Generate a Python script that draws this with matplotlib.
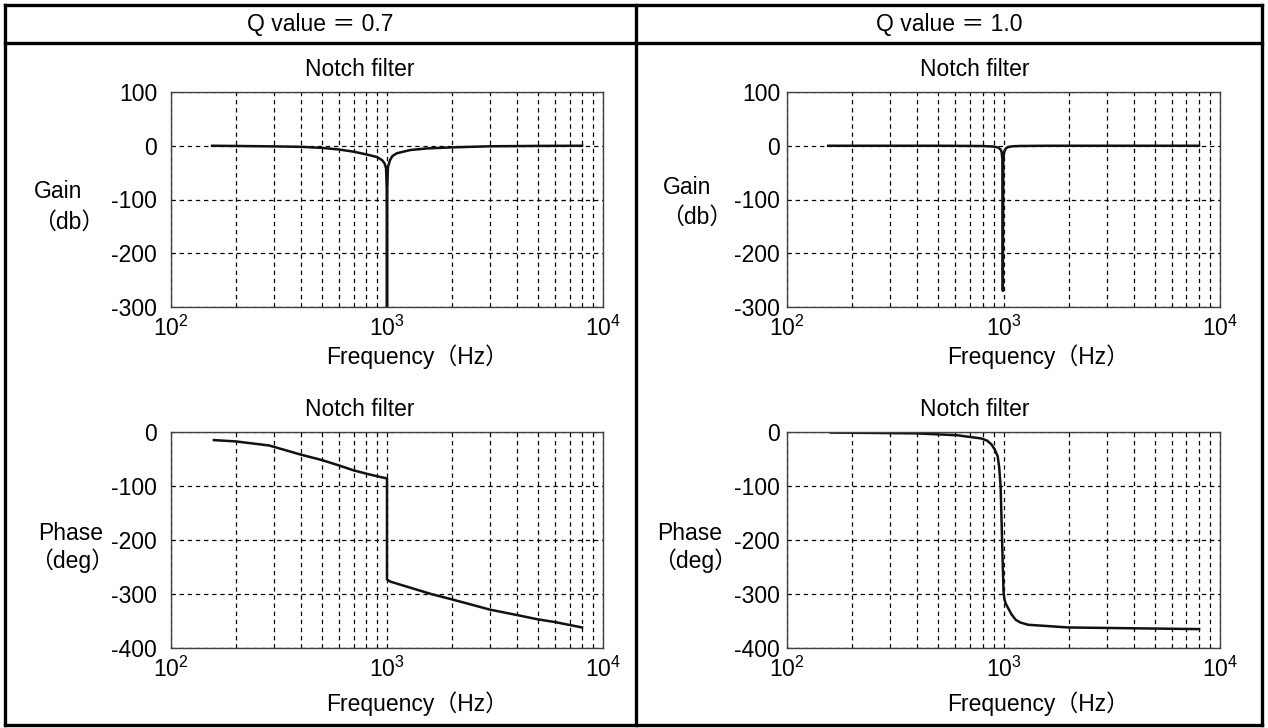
import matplotlib
matplotlib.use('Agg')
import matplotlib.pyplot as plt
from matplotlib.lines import Line2D
from matplotlib.ticker import LogLocator, NullFormatter, FixedLocator

plt.rcParams.update({
    'font.family': ['Liberation Sans', 'Noto Sans CJK JP'],
    'font.size': 16.5,
    'axes.unicode_minus': False,
    'mathtext.fontset': 'custom',
    'mathtext.rm': 'Liberation Sans',
    'mathtext.it': 'Liberation Sans:italic',
    'mathtext.bf': 'Liberation Sans:bold',
})

# --- DATA ---
col_titles = ['Q value ＝ 0.7', 'Q value ＝ 1.0']
plot_title = 'Notch filter'
xlabel = 'Frequency（Hz）'

# gain, Q = 0.7
gain_f_q07 = [155, 200, 300, 400, 500, 600, 700, 800, 900, 950, 975, 990, 997, 1000,
              1003, 1010, 1032, 1060, 1110, 1280, 1530, 2000, 3000, 5000, 8000]
gain_db_q07 = [0, -0.4, -1.2, -2, -4, -7, -11, -16, -21, -27, -33, -42, -80, -300,
               -80, -40, -27, -19, -14, -8, -5, -3, -1, -0.3, 0]

# gain, Q = 1.0
gain_f_q10 = [155, 500, 800, 900, 940, 965, 980, 988, 993, 998, 1008, 1025, 1050,
              1100, 1200, 1600, 8000]
gain_db_q10 = [0, 0, -0.5, -1.5, -3, -6, -11, -25, -270, -25, -11, -5, -2.5,
               -1, -0.4, 0, 0]

# phase, Q = 0.7
phase_f_q07 = [158, 200, 285, 400, 500, 600, 700, 800, 900, 1000, 1000, 1035, 1250,
               1600, 2000, 3000, 4000, 5000, 6000, 8000]
phase_deg_q07 = [-15, -17.5, -25, -42, -52, -62, -71, -77, -82, -86, -273, -277, -287,
                 -300, -310, -329, -339, -347, -352, -362]

# phase, Q = 1.0
phase_f_q10 = [159, 395, 610, 790, 840, 880, 910, 940, 955, 970, 985, 1000, 1010,
               1025, 1050, 1090, 1140, 1200, 1300, 2000, 8000]
phase_deg_q10 = [-1, -2.5, -6, -12, -16, -23, -32, -45, -65, -101, -200, -295, -310,
                 -318, -326, -338, -348, -353, -357, -362, -365]

gain_ticks = [-300, -200, -100, 0, 100]
phase_ticks = [-400, -300, -200, -100, 0]

# --- LAYOUT (pixels) ---
W, H = 1268, 728
fig = plt.figure(figsize=(W / 100, H / 100), dpi=100)


def fx(x):
    return x / W


def fy(y):
    return 1 - y / H


def add_axes(x0, x1, ytop, ybot):
    return fig.add_axes([fx(x0), fy(ybot), (x1 - x0) / W, (ybot - ytop) / H])


cols = [dict(x0=171, x1=603, title_x=360, xlab_x=417, ypad=10,
             ylab_x=58, unit_dx=11, ph_x=71, ph_dx=1),
        dict(x0=787, x1=1220, title_x=975, xlab_x=1038, ypad=5,
             ylab_x=687, unit_dx=10, ph_x=690, ph_dx=5)]

gain_data = [(gain_f_q07, gain_db_q07), (gain_f_q10, gain_db_q10)]
phase_data = [(phase_f_q07, phase_deg_q07), (phase_f_q10, phase_deg_q10)]


def style_axes(ax, yticks, ypad):
    ax.set_xscale('log')
    ax.set_xlim(100, 10000)
    ax.set_ylim(yticks[0], yticks[-1])
    ax.yaxis.set_major_locator(FixedLocator(yticks))
    ax.xaxis.set_major_locator(LogLocator(base=10))
    ax.xaxis.set_minor_locator(LogLocator(base=10, subs=range(2, 10)))
    ax.xaxis.set_minor_formatter(NullFormatter())
    ax.tick_params(which='both', length=0)
    ax.tick_params(axis='y', pad=ypad)
    ax.tick_params(axis='x', pad=6)
    ax.grid(True, which='both', axis='x', color='k', lw=0.9, ls=(0, (3.5, 3)))
    ax.grid(True, which='major', axis='y', color='k', lw=0.9, ls=(0, (3.5, 3)))
    for s in ax.spines.values():
        s.set_color('#404040')
        s.set_linewidth(1.0)


for c, col in enumerate(cols):
    # gain plot
    ax = add_axes(col['x0'], col['x1'], 92, 307)
    f, g = gain_data[c]
    ax.plot(f, g, color='#111111', lw=1.8)
    style_axes(ax, gain_ticks, col['ypad'])
    fig.text(fx(col['title_x']), fy(70), plot_title, ha='center', va='center')
    fig.text(fx(col['xlab_x']), fy(357), xlabel, ha='center', va='center')
    fig.text(fx(col['ylab_x']), fy(192 - 5 * c), 'Gain', ha='center', va='center')
    fig.text(fx(col['ylab_x'] + col['unit_dx']), fy(222 - 5 * c), '（db）',
             ha='center', va='center')

    # phase plot
    ax = add_axes(col['x0'], col['x1'], 432, 648)
    f, p = phase_data[c]
    ax.plot(f, p, color='#111111', lw=1.8)
    style_axes(ax, phase_ticks, col['ypad'])
    fig.text(fx(col['title_x']), fy(409), plot_title, ha='center', va='center')
    fig.text(fx(col['xlab_x']), fy(704), xlabel, ha='center', va='center')
    fig.text(fx(col['ph_x']), fy(533), 'Phase', ha='center', va='center')
    fig.text(fx(col['ph_x'] + col['ph_dx']), fy(561), '（deg）',
             ha='center', va='center')

# --- TABLE FRAME ---
left, right, top, bottom, mid, head = 5, 1262, 5, 725, 636, 43
frame = [((left, right), (top, top)), ((left, right), (head, head)),
         ((left, right), (bottom, bottom)), ((left, left), (top, bottom)),
         ((right, right), (top, bottom)), ((mid, mid), (top, bottom))]
for xs, ys in frame:
    fig.add_artist(Line2D([fx(v) for v in xs], [fy(v) for v in ys],
                          transform=fig.transFigure, color='k', lw=2.4))

fig.text(fx((left + mid) / 2), fy(24), col_titles[0], ha='center', va='center')
fig.text(fx((mid + right) / 2), fy(24), col_titles[1], ha='center', va='center')

fig.savefig('out.png', dpi=100)
